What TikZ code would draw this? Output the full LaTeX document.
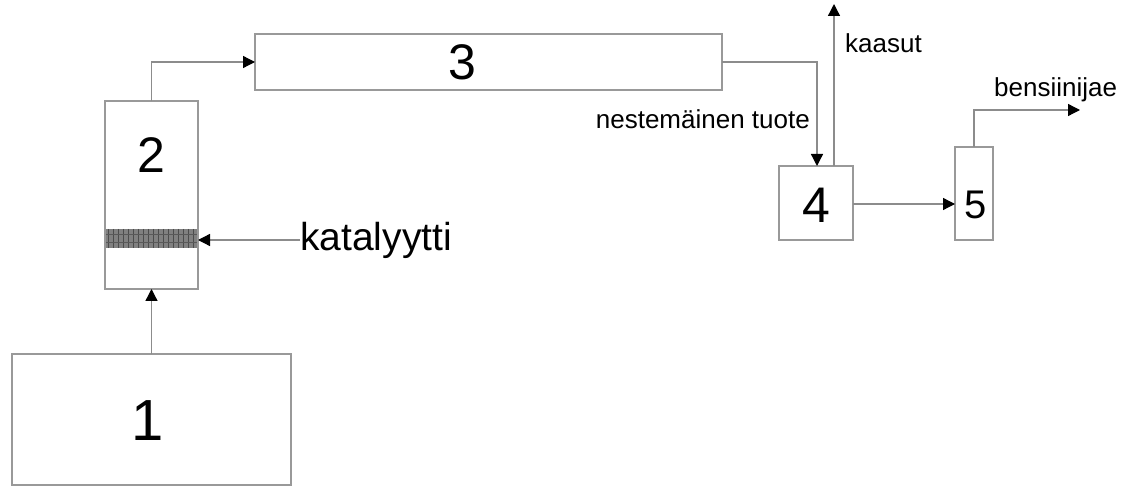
\documentclass[tikz,border=0pt]{standalone}
\usepackage{fontspec}
\setmainfont{Liberation Sans}
\usetikzlibrary{arrows.meta,positioning}
\begin{document}
\begin{tikzpicture}[x=1pt,y=-1pt,
  box/.style={draw=black!40,line width=1.4pt,inner sep=0pt,outer sep=0pt},
  flow/.style={draw=black!45,line width=1.3pt,-{Triangle[length=12pt,width=12pt,black]}},
  lbl/.style={inner sep=0pt,font=\fontsize{26}{30}\selectfont}]
\useasboundingbox (0,0) rectangle (1128,497);
\fill[white] (0,0) rectangle (1128,497);
% boxes
\node[box,minimum width=279pt,minimum height=131pt] (b1) at (151.5,419.5) {};
\node[font=\fontsize{58}{62}\selectfont] at (148,421) {1};
\node[box,minimum width=93pt,minimum height=188pt] (b2) at (151.5,195) {};
\node[font=\fontsize{50}{54}\selectfont] at (151.5,155) {2};
\node[box,minimum width=467pt,minimum height=56pt] (b3) at (488.5,62) {};
\node[font=\fontsize{50}{54}\selectfont] at (462,62) {3};
\node[box,minimum width=74pt,minimum height=74pt] (b4) at (816,203) {};
\node[font=\fontsize{50}{54}\selectfont] at (816,205) {4};
\node[box,minimum width=38pt,minimum height=93pt] (b5) at (974,193.5) {};
\node[font=\fontsize{40}{44}\selectfont] at (976,205) {5};
% catalyst band
\fill[black!50] (105,229) rectangle (198,248);
\foreach \i in {0,...,17}{\draw[black!70,line width=0.7pt] (108+\i*5,229) -- (108+\i*5,248);}
\draw[black!65,line width=0.6pt] (105,234) -- (198,234) (105,242) -- (198,242);
\draw[box,fill=none] (b2.north west) rectangle (b2.south east);
% labels
\node[lbl,font=\fontsize{39}{42}\selectfont,anchor=west] (kat) at (300,240) {katalyytti};
\node[lbl,anchor=east] at (810,119) {nestemäinen tuote};
\node[lbl,anchor=west] at (845,43) {kaasut};
\node[lbl,anchor=west] at (994,90) {bensiinijae};
% coordinates
\coordinate (gas) at (834,4);
\coordinate (ben) at (1080,110);
% connectors
\draw[flow] (b1.north) -- (b2.south);
\draw[flow] (b2.north) |- (b3.west);
\draw[flow] (kat.west) -- (b2.east |- kat.west);
\draw[flow] (b3.east) -| (817,166);
\draw[flow] (834,166) -- (gas);
\draw[flow] (b4.east |- 0,204) -- (b5.west |- 0,204);
\draw[flow] (b5.north) |- (ben);
\end{tikzpicture}
\end{document}
